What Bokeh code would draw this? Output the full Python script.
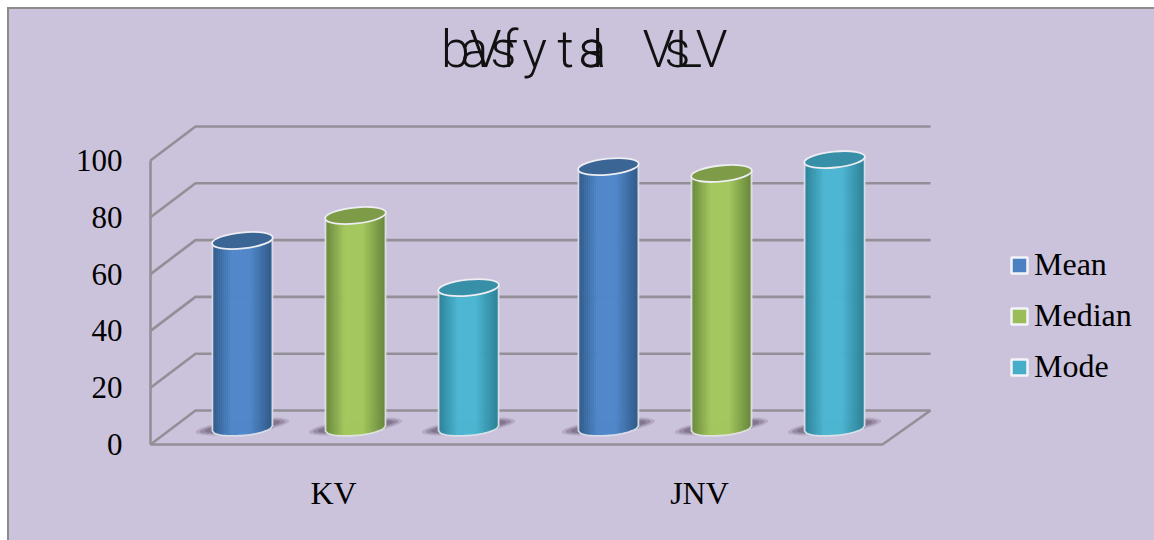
from bokeh.plotting import figure
from bokeh.models import Range1d, FixedTicker, Legend, LegendItem, Label
from bokeh.embed import file_html
from bokeh.resources import INLINE

categories = ["KV", "JNV"]
series = ["Mean", "Median", "Mode"]
mean_values = [66.2, 92.2]
median_values = [75.0, 89.8]
mode_values = [49.6, 94.7]
y_ticks = [0, 20, 40, 60, 80, 100]

title_glyphs = ["b", "a", "V", "s", "f", "y", "t", "s", "a", "l", "V", "s", "L", "V"]
title_x = [455, 474, 485, 503, 509, 534, 565, 591, 592, 597, 658, 677, 688, 711]

BG = "#CBC2DC"
GRID = "#938F96"
SERIF = "Liberation Serif"
colours = {
    "Mean": ("#2F5A88", "#5088CB", "#3A6595"),
    "Median": ("#66863A", "#A4C75E", "#7E9B47"),
    "Mode": ("#2A8096", "#4CB6D2", "#388FA8"),
}

# Pixel calibration of the pseudo-3D frame (page pixels)
X0, Y0 = 150, 444          # front corner, value 0
PX_PER_CAT, PX_PER_VAL = 366.0, 2.84
DEPTH_X, DEPTH_Y = 45, 34  # wall depth
MID_X, MID_Y = 22, 16      # where the columns stand
BAR_W = 60
OFFS = [-0.309, 0.0, 0.309]

def dx(px): return px / PX_PER_CAT
def dy(px): return px / PX_PER_VAL
def X(page): return (page - X0) / PX_PER_CAT
def Y(page): return (Y0 - page) / PX_PER_VAL

p = figure(width=1147, height=533, output_backend="svg", toolbar_location=None,
           x_range=Range1d(X(142), X(1156)), y_range=Range1d(Y(452), Y(9)),
           min_border_left=133, min_border_right=0, min_border_top=0, min_border_bottom=90,
           frame_width=1014, frame_height=443,
           background_fill_color=None, border_fill_color=None, outline_line_color=None,
           margin=(7, 0, 0, 7),
           styles={"border-left": "2px solid #8C8C8C", "border-top": "2px solid #8C8C8C",
                   "box-sizing": "border-box", "background-color": BG})
p.grid.visible = False

p.yaxis.ticker = FixedTicker(ticks=y_ticks)
p.yaxis.bounds = (0, 100)
p.xaxis.ticker = FixedTicker(ticks=[0.5, 1.5])
p.xaxis.major_label_overrides = {i + 0.5: c for i, c in enumerate(categories)}
for ax in (p.xaxis[0], p.yaxis[0]):
    ax.axis_line_color = None
    ax.major_tick_line_color = None
    ax.minor_tick_line_color = None
    ax.major_label_text_font = SERIF
    ax.major_label_text_color = "#000000"
p.yaxis.major_label_text_font_size = "31px"
p.xaxis.major_label_text_font_size = "32px"
p.yaxis.major_label_standoff = 14
p.xaxis.major_label_standoff = 16

# walls and floor
wx, wy = dx(DEPTH_X), dy(DEPTH_Y)
x_end = 2.0
back_end = x_end + wx + dx(3)
p.multi_line([[0, wx, back_end] for _ in y_ticks],
             [[v, v + wy, v + wy] for v in y_ticks], line_color=GRID, line_width=2.6)
p.line([0, 0], [0, 100], line_color=GRID, line_width=2.6)
p.line([0, x_end, back_end], [0, 0, wy], line_color=GRID, line_width=2.6)

def hexmix(a, b, t):
    ca = [int(a[i:i + 2], 16) for i in (1, 3, 5)]
    cb = [int(b[i:i + 2], 16) for i in (1, 3, 5)]
    return "#%02X%02X%02X" % tuple(round(x + (y - x) * t) for x, y in zip(ca, cb))

def shade(edge, mid, u):
    if u < -0.35:
        return hexmix(edge, mid, (u + 1) / 0.65)
    if u > 0.25:
        return hexmix(mid, edge, (u - 0.25) / 0.75)
    return mid

N = 30
values = {"Mean": mean_values, "Median": median_values, "Mode": mode_values}
legend_items = []
for s_i, name in enumerate(series):
    edge, mid, top_c = colours[name]
    for g in range(len(categories)):
        v = values[name][g]
        cx = g + 0.5 + OFFS[s_i] + dx(MID_X)
        base = dy(MID_Y)
        top = v + base
        half = BAR_W / 2
        # floor shadow
        for w, h, a in ((94, 14, 0.2), (86, 11, 0.3), (76, 9, 0.35)):
            p.ellipse([cx], [base + dy(2)], width=w, height=h, angle=0.12,
                      width_units="screen", height_units="screen",
                      fill_color="#5A4A60", fill_alpha=a, line_color=None)
        # column body drawn as thin vertical strips for the cylinder shading
        xs, tops, bots, cols = [], [], [], []
        for k in range(N):
            u = -1 + (2 * k + 1) / N
            xs.append(cx + dx(u * half))
            tops.append(top + dy(3 * u))
            bots.append(base + dy(2.5 * u - 7 * (max(0.0, 1 - u * u)) ** 0.5))
            cols.append(shade(edge, mid, u))
        p.vbar(x=xs, top=tops, bottom=bots, width=dx(BAR_W / N), fill_color=cols, line_color=cols, line_width=0.7)
        # light rim: sides and base arc
        rim_x, rim_y = [cx - dx(half)], [top - dy(3)]
        for k in range(N + 1):
            u = -1 + 2 * k / N
            rim_x.append(cx + dx(u * half))
            rim_y.append(base + dy(2.5 * u - 7 * (max(0.0, 1 - u * u)) ** 0.5))
        rim_x.append(cx + dx(half)); rim_y.append(top + dy(3))
        p.line(rim_x, rim_y, line_color="#E6E6EC", line_width=1.8, line_alpha=0.9)
        # top cap
        p.ellipse([cx], [top], width=BAR_W + 1, height=16, angle=0.1,
                  width_units="screen", height_units="screen",
                  fill_color=top_c, line_color="#EDEDF2", line_width=1.8)
    key = p.vbar(x=[float("nan")], top=[float("nan")], width=0.1, fill_color=hexmix(edge, mid, 0.85),
                 line_color="#F4F4F8", line_width=2.5)
    legend_items.append(LegendItem(label=name, renderers=[key]))

legend = Legend(items=legend_items, location=(867, 67), background_fill_alpha=0, border_line_color=None,
                label_text_font=SERIF, label_text_font_size="32px", label_text_color="#000000",
                glyph_width=20, glyph_height=20, spacing=14, padding=0, margin=0, label_standoff=5)
p.add_layout(legend, "center")

for g, gx in zip(title_glyphs, title_x):
    p.add_layout(Label(x=X(gx), y=Y(49), text=g, text_font="Roboto Light", text_align="center",
                       text_font_size="52px", text_color="#111111", text_baseline="alphabetic"))

open("out.html", "w").write(file_html(p, INLINE))
